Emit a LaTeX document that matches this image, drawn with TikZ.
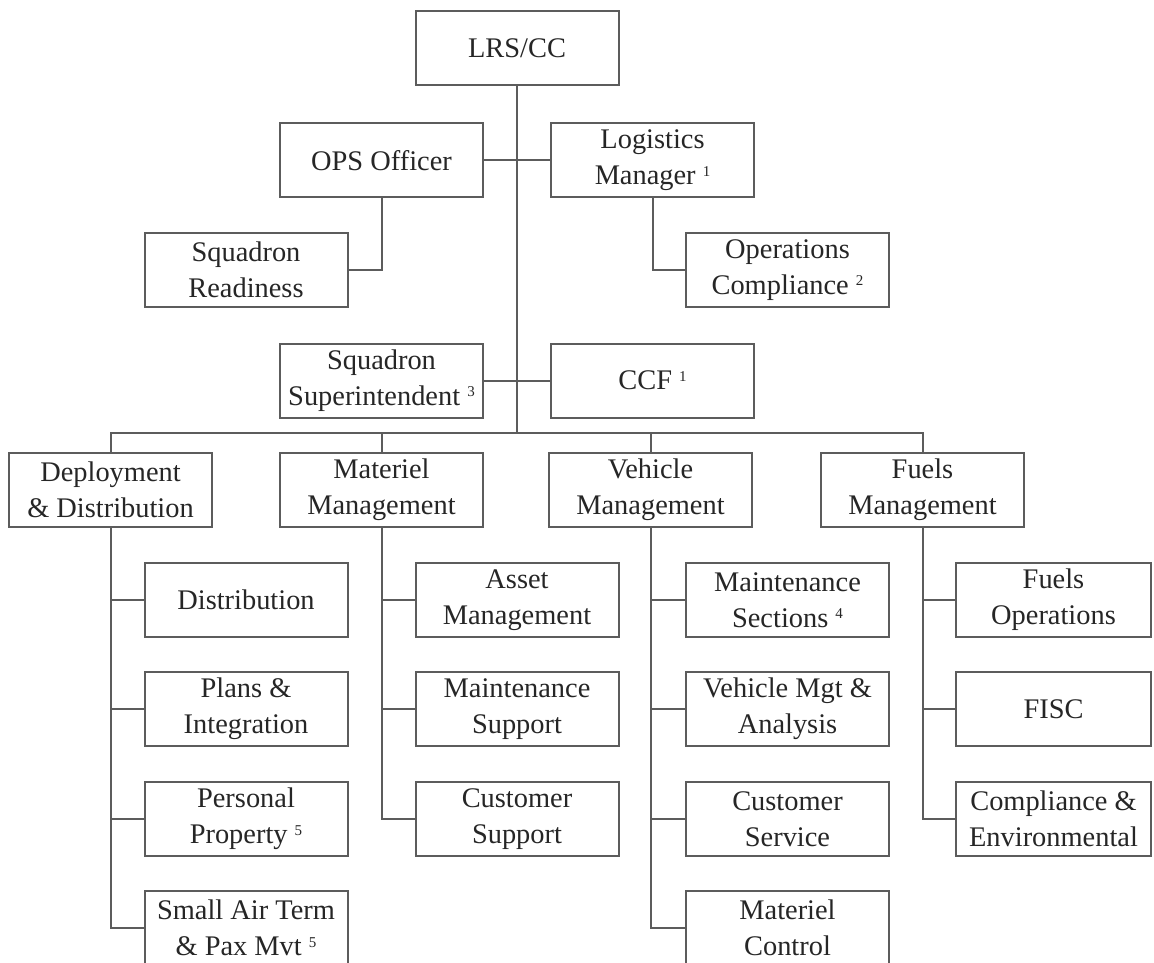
\documentclass[tikz,border=0pt]{standalone}
\usepackage{fontspec}
\setmainfont{Liberation Serif}
\usepackage{tikz}
\usepackage{xcolor}
\definecolor{FontColor}{HTML}{262626}
\definecolor{LineGray}{HTML}{5C5C5C}
\newcommand\fnmark[1]{\raisebox{4.2pt}{\fontsize{7.5}{7.5}\selectfont #1}}
\newcommand\nodelrs{LRS/CC}
\newcommand\nodeops{OPS Officer}
\newcommand\nodelogm{Logistics\\Manager \fnmark{1}}
\newcommand\nodesqr{Squadron\\Readiness}
\newcommand\nodeopsc{Operations\\Compliance \fnmark{2}}
\newcommand\nodesupt{Squadron\\Superintendent \fnmark{3}}
\newcommand\nodeccf{CCF \fnmark{1}}
\newcommand\nodedd{Deployment\\\& Distribution}
\newcommand\nodemm{Materiel\\Management}
\newcommand\nodevm{Vehicle\\Management}
\newcommand\nodefm{Fuels\\Management}
\newcommand\nodedist{Distribution}
\newcommand\nodeplans{Plans \&\\Integration}
\newcommand\nodepp{Personal\\Property \fnmark{5}}
\newcommand\nodesat{Small Air Term\\\& Pax Mvt \fnmark{5}}
\newcommand\nodeam{Asset\\Management}
\newcommand\nodems{Maintenance\\Support}
\newcommand\nodecsup{Customer\\Support}
\newcommand\nodemsec{Maintenance\\Sections \fnmark{4}}
\newcommand\nodevma{Vehicle Mgt \&\\Analysis}
\newcommand\nodecser{Customer\\Service}
\newcommand\nodemc{Materiel\\Control}
\newcommand\nodefo{Fuels\\Operations}
\newcommand\nodefisc{FISC}
\newcommand\nodece{Compliance \&\\Environmental}
\tikzstyle{mynodestyle} = [rectangle, minimum width=101.5pt, minimum height=37pt, inner sep=1pt, align=center, text=FontColor, font=\fontsize{14.2}{18}\selectfont]
\tikzstyle{ob} = [mynodestyle, draw=LineGray, fill=white]
\tikzstyle{nb} = [ob, minimum width=97.5pt]
\tikzset{every picture/.style={line width=1pt}}
\begin{document}
\begin{tikzpicture}[x=0.5pt, y=-0.5pt, LineGray]
\clip (0,0) rectangle (1154,962);
\node[ob] (lrs) at (517, 48) {\nodelrs};
\node[ob] (ops) at (381.5, 160.5) {\nodeops};
\node[ob] (logm) at (652.5, 160.5) {\nodelogm};
\node[ob] (sqr) at (246, 270) {\nodesqr};
\node[ob] (opsc) at (787.5, 270) {\nodeopsc};
\node[ob] (supt) at (381.5, 380.5) {\nodesupt};
\node[ob] (ccf) at (652.5, 380.5) {\nodeccf};
\coordinate (bus) at (517, 433);
\node[ob] (dd) at (110.5, 490) {\nodedd};
\node[ob] (mm) at (381.5, 490) {\nodemm};
\node[ob] (vm) at (650.5, 490) {\nodevm};
\node[ob] (fm) at (922.5, 490) {\nodefm};
\node[ob] (dist) at (246, 600) {\nodedist};
\node[ob] (plans) at (246, 709) {\nodeplans};
\node[ob] (pp) at (246, 819) {\nodepp};
\node[ob] (sat) at (246, 928) {\nodesat};
\node[ob] (am) at (517, 600) {\nodeam};
\node[ob] (ms) at (517, 709) {\nodems};
\node[ob] (csup) at (517, 819) {\nodecsup};
\node[ob] (msec) at (787.5, 600) {\nodemsec};
\node[ob] (vma) at (787.5, 709) {\nodevma};
\node[ob] (cser) at (787.5, 819) {\nodecser};
\node[ob] (mc) at (787.5, 928) {\nodemc};
\node[nb] (fo) at (1053.5, 600) {\nodefo};
\node[nb] (fisc) at (1053.5, 709) {\nodefisc};
\node[nb] (ce) at (1053.5, 819) {\nodece};
\draw (lrs) -- (bus);
\draw (ops) -- (logm);
\draw (ops) |- (sqr);
\draw (logm) |- (opsc);
\draw (supt) -- (ccf);
\draw (dd) |- (bus) -| (fm);
\draw (mm) -- (mm |- bus);
\draw (vm) -- (vm |- bus);
\draw (dd) |- (dist);
\draw (dd) |- (plans);
\draw (dd) |- (pp);
\draw (dd) |- (sat);
\draw (mm) |- (am);
\draw (mm) |- (ms);
\draw (mm) |- (csup);
\draw (vm) |- (msec);
\draw (vm) |- (vma);
\draw (vm) |- (cser);
\draw (vm) |- (mc);
\draw (fm) |- (fo);
\draw (fm) |- (fisc);
\draw (fm) |- (ce);
\end{tikzpicture}
\end{document}
